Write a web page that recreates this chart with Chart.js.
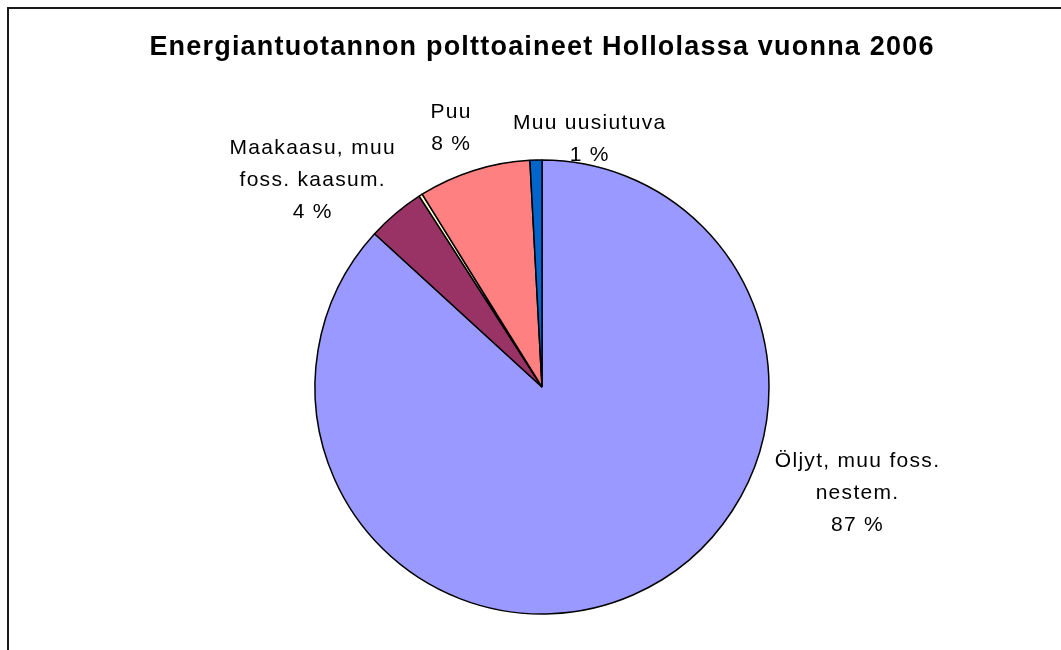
<!DOCTYPE html>
<html>
<head>
<meta charset="utf-8">
<script src="https://cdn.jsdelivr.net/npm/chart.js@4/dist/chart.umd.min.js"></script>
<style>
  html, body { margin: 0; padding: 0; background: #fff; }
  #wrap { width: 1061px; height: 650px; position: relative; }
</style>
</head>
<body>
<div id="wrap"><canvas id="c" width="1061" height="650"></canvas></div>
<script>
// ---- data ----
const titleText = 'Energiantuotannon polttoaineet Hollolassa vuonna 2006';
const categories = [
  ['Öljyt, muu foss.', 'nestem.'],
  ['Maakaasu, muu', 'foss. kaasum.'],
  [],
  ['Puu'],
  ['Muu uusiutuva']
];
const shares = [86.8, 4.1, 0.25, 8.0, 0.85];
const sliceColors = ['#9999FF', '#993366', '#FFFFCC', '#FF8080', '#0066CC'];

// label placement relative to pie centre, in units of the radius
const labelOffsets = [
  [1.39, 0.47],
  [-1.01, -0.91],
  null,
  [-0.40, -1.14],
  [0.21, -1.09]
];

const total = shares.reduce((a, b) => a + b, 0);

const framePlugin = {
  id: 'frame',
  beforeDraw(chart) {
    const ctx = chart.ctx;
    ctx.save();
    ctx.fillStyle = '#fff';
    ctx.fillRect(0, 0, chart.width, chart.height);
    ctx.strokeStyle = '#1a1a1a';
    ctx.lineWidth = 2;
    ctx.beginPath();
    ctx.moveTo(8, chart.height);
    ctx.lineTo(8, 8);
    ctx.lineTo(chart.width, 8);
    ctx.stroke();
    ctx.restore();
    ctx.letterSpacing = '1.2px';
  },
  beforeDatasetsDraw(chart) {
    chart.ctx.letterSpacing = '0px';
  }
};

const labelPlugin = {
  id: 'sliceLabels',
  afterDatasetsDraw(chart) {
    const ctx = chart.ctx;
    const meta = chart.getDatasetMeta(0);
    ctx.save();
    ctx.font = '21px "Liberation Sans", Arial, sans-serif';
    ctx.letterSpacing = '1.3px';
    ctx.fillStyle = '#000';
    ctx.textAlign = 'center';
    ctx.textBaseline = 'middle';
    meta.data.forEach((arc, i) => {
      const off = labelOffsets[i];
      if (!off || categories[i].length === 0) return;
      const r = arc.outerRadius;
      const cx = arc.x + off[0] * r;
      const cy = arc.y + off[1] * r;
      const pct = Math.round(shares[i] / total * 100) + ' %';
      const lines = categories[i].concat([pct]);
      const lh = 32;
      const startY = cy - (lines.length - 1) * lh / 2;
      lines.forEach((t, k) => ctx.fillText(t, cx, startY + k * lh));
    });
    ctx.restore();
    ctx.letterSpacing = '0px';
  }
};

new Chart(document.getElementById('c'), {
  type: 'pie',
  data: {
    labels: categories.map(c => c.join(' ')),
    datasets: [{
      data: shares,
      backgroundColor: sliceColors,
      borderColor: '#000',
      borderWidth: 1.5
    }]
  },
  options: {
    responsive: false,
    animation: false,
    radius: 227,
    layout: { padding: { left: 23, right: 0, top: 0, bottom: 0 } },
    plugins: {
      legend: { display: false },
      tooltip: { enabled: false },
      title: {
        display: true,
        text: titleText,
        color: '#000',
        font: { family: '"Liberation Sans", Arial, sans-serif', size: 27, weight: 'bold', lineHeight: 1.2 },
        padding: { top: 31, bottom: 60.6 }
      }
    }
  },
  plugins: [framePlugin, labelPlugin]
});
</script>
</body>
</html>
